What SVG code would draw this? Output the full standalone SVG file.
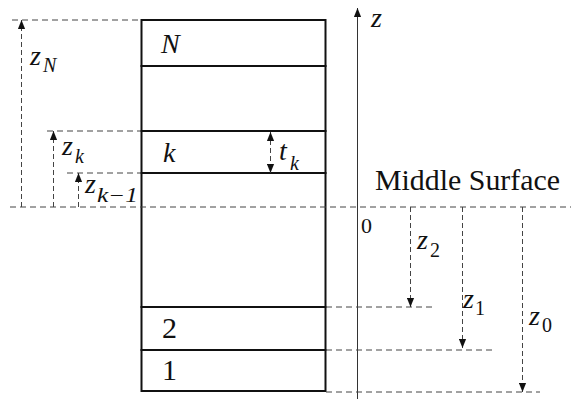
<svg xmlns="http://www.w3.org/2000/svg" width="571" height="399" viewBox="0 0 571 399">
<defs>
<marker id="ah" viewBox="0 0 10 8" markerWidth="9" markerHeight="8" refX="10" refY="4" orient="auto-start-reverse" markerUnits="userSpaceOnUse">
<path d="M0,0 L10,4 L0,8 Z" fill="#111"/>
</marker>
</defs>
<rect x="0" y="0" width="571" height="399" fill="#fff"/>

<g id="laminate" fill="none" stroke="#111" stroke-width="2">
<g id="layer-N"><rect x="141.5" y="20" width="184" height="46"/></g>
<g id="layer-mid-upper"><rect x="141.5" y="66" width="184" height="65"/></g>
<g id="layer-k"><rect x="141.5" y="131" width="184" height="42"/></g>
<g id="layer-mid-lower"><rect x="141.5" y="173" width="184" height="134"/></g>
<g id="layer-2"><rect x="141.5" y="307" width="184" height="43"/></g>
<g id="layer-1"><rect x="141.5" y="350" width="184" height="41"/></g>
</g>

<g id="z-axis">
<line x1="357.5" y1="399" x2="357.5" y2="8" stroke="#333" stroke-width="1" marker-end="url(#ah)"/>
</g>

<g id="connectors" fill="none" stroke="#444" stroke-width="1">
<g stroke-dasharray="6 4">
<line x1="10" y1="207" x2="571" y2="207"/>
<line x1="12" y1="20" x2="141" y2="20"/>
<line x1="47" y1="131" x2="141" y2="131"/>
<line x1="67" y1="173" x2="141" y2="173"/>
<line x1="326" y1="307" x2="433" y2="307"/>
<line x1="326" y1="350" x2="494" y2="350"/>
<line x1="326" y1="392" x2="540" y2="392"/>
</g>
<g stroke-dasharray="5 3" marker-end="url(#ah)">
<line x1="21.5" y1="207" x2="21.5" y2="20"/>
<line x1="53.5" y1="207" x2="53.5" y2="131"/>
<line x1="78.5" y1="207" x2="78.5" y2="173"/>
<line marker-start="url(#ah)" x1="270.5" y1="132" x2="270.5" y2="173"/>
<line x1="410.5" y1="207" x2="410.5" y2="307"/>
<line x1="462.5" y1="207" x2="462.5" y2="348"/>
<line x1="522.5" y1="207" x2="522.5" y2="392"/>
</g>
</g>

<g id="labels" fill="#111">
<text style="font-family:'Liberation Serif',serif;font-style:italic;font-size:28px" x="161" y="53">N</text>
<text style="font-family:'Liberation Serif',serif;font-style:italic;font-size:28px" x="163" y="162">k</text>
<text style="font-family:'Liberation Serif',serif;font-size:30px" x="162" y="338">2</text>
<text style="font-family:'Liberation Serif',serif;font-size:30px" x="162" y="380">1</text>
<text style="font-family:'Liberation Serif',serif;font-style:italic;font-size:28px" x="371" y="27">z</text>
<text style="font-family:'Liberation Serif',serif;font-size:22px" x="361" y="233">0</text>
<text style="font-family:'Liberation Serif',serif;font-size:30px" x="375" y="190" textLength="185" lengthAdjust="spacingAndGlyphs">Middle Surface</text>
<text style="font-family:'Liberation Serif',serif;font-style:italic;font-size:28px" x="30" y="65">z</text><text style="font-family:'Liberation Serif',serif;font-style:italic;font-size:20px" x="43" y="72">N</text>
<text style="font-family:'Liberation Serif',serif;font-style:italic;font-size:28px" x="62" y="155">z</text><text style="font-family:'Liberation Serif',serif;font-style:italic;font-size:20px" x="75" y="163">k</text>
<text style="font-family:'Liberation Serif',serif;font-style:italic;font-size:28px" x="85" y="193">z</text><text style="font-family:'Liberation Serif',serif;font-style:italic;font-size:20px" x="97" y="202" textLength="41" lengthAdjust="spacingAndGlyphs">k−1</text>
<text style="font-family:'Liberation Serif',serif;font-style:italic;font-size:28px" x="279" y="160">t</text><text style="font-family:'Liberation Serif',serif;font-style:italic;font-size:20px" x="290" y="170">k</text>
<text style="font-family:'Liberation Serif',serif;font-style:italic;font-size:28px" x="417" y="249">z</text><text style="font-family:'Liberation Serif',serif;font-size:20px" x="430" y="257">2</text>
<text style="font-family:'Liberation Serif',serif;font-style:italic;font-size:28px" x="463" y="308">z</text><text style="font-family:'Liberation Serif',serif;font-size:20px" x="475" y="315">1</text>
<text style="font-family:'Liberation Serif',serif;font-style:italic;font-size:28px" x="529" y="325">z</text><text style="font-family:'Liberation Serif',serif;font-size:20px" x="542" y="332">0</text>
</g>
</svg>
